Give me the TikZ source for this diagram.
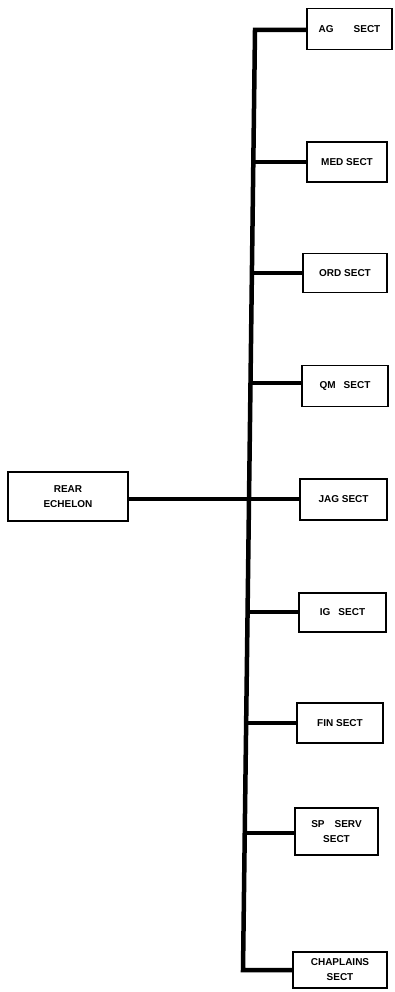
\documentclass[tikz,border=0pt]{standalone}
\usepackage{fontspec}
\setmainfont{Liberation Sans}
\usetikzlibrary{positioning}

\begin{document}
\begin{tikzpicture}[x=1pt, y=-1pt,
  sect/.style={draw, line width=1.1pt, inner sep=2pt, align=center,
    font=\fontsize{10}{15}\selectfont\bfseries},
  bus/.style={line width=4.5pt, line join=miter}]
\useasboundingbox (0,0) rectangle (394,992);
% rear echelon on the left
\node[sect, minimum width=120pt, minimum height=49pt] (rear) at (68,496.5) {REAR\\ECHELON};
% sections down the right side
\node[sect, minimum width=85pt, minimum height=41pt] (ag) at (349.5,29) {AG\hspace{20pt}SECT};
\node[sect, minimum width=80pt, minimum height=40pt] (med) at (347,162) {MED SECT};
\node[sect, minimum width=84pt, minimum height=39pt] (ord) at (345,273) {ORD SECT};
\node[sect, minimum width=86pt, minimum height=41pt] (qm) at (345,386) {QM\hspace{8pt}SECT};
\node[sect, minimum width=87pt, minimum height=41pt] (jag) at (343.5,499.5) {JAG SECT};
\node[sect, minimum width=87pt, minimum height=39pt] (ig) at (342.5,612.5) {IG\hspace{8pt}SECT};
\node[sect, minimum width=86pt, minimum height=40pt] (fin) at (340,723) {FIN SECT};
\node[sect, minimum width=83pt, minimum height=47pt] (sp) at (336.5,831.5) {SP\hspace{10pt}SERV\\SECT};
\node[sect, minimum width=94pt, minimum height=36pt] (chap) at (340,970) {CHAPLAINS\\SECT};
% junctions on the bus
\coordinate (jag0) at (255,30);
\coordinate (jmed) at (253.3,162);
\coordinate (jord) at (251.9,273);
\coordinate (jqm) at (250.5,383);
\coordinate (jjag) at (249,499);
\coordinate (jig) at (247.6,612);
\coordinate (jfin) at (246.1,723);
\coordinate (jsp) at (244.7,833);
\coordinate (jchap) at (243,970);
% the bus
\draw[bus] (ag.west |- jag0) -- (jag0) -- (jchap) -- (jchap -| chap.west);
\draw[bus] (rear.east |- jjag) -- (jjag);
\foreach \j/\b in {jmed/med, jord/ord, jqm/qm, jjag/jag, jig/ig, jfin/fin, jsp/sp}
  \draw[bus] (\j) -- (\j -| \b.west);
\end{tikzpicture}
\end{document}
